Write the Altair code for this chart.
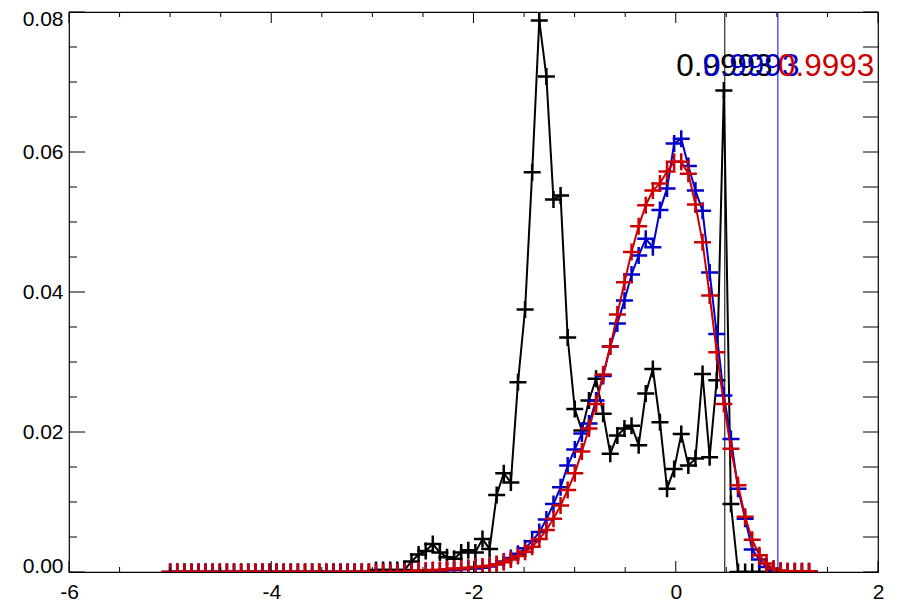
import altair as alt
import pandas as pd

# ---------------- data ----------------
N = 91
x_bins = [round(-5 + 0.0702 * i, 4) for i in range(N)]

black_vals = [0.0] * 29 + [0.0003] * 5 + [
    0.0015, 0.0025, 0.0030, 0.0040, 0.0028, 0.0021, 0.0019, 0.0028, 0.0031, 0.0028,
    0.0047, 0.0033, 0.0110, 0.0141, 0.0128, 0.0271, 0.0375, 0.0571, 0.0788, 0.0708,
    0.0532, 0.0538, 0.0335, 0.0233, 0.0202, 0.0245, 0.0276, 0.0226, 0.0169, 0.0195,
    0.0205, 0.0209, 0.0181, 0.0255, 0.0290, 0.0214, 0.0119, 0.0147, 0.0197, 0.0152,
    0.0162, 0.0283, 0.0164, 0.0274, 0.0688, 0.0097] + [0.0] * 11

red_vals = [0.0] * 34 + [
    0.0001, 0.0002, 0.0002, 0.0003, 0.0003, 0.0004, 0.0005, 0.0005, 0.0006, 0.0007,
    0.0008, 0.0009, 0.0011, 0.0014, 0.0018, 0.0023, 0.0029, 0.0036, 0.0047, 0.0060,
    0.0076, 0.0095, 0.0117, 0.0141, 0.0172, 0.0205, 0.0240, 0.0282, 0.0322, 0.0368,
    0.0414, 0.0457, 0.0494, 0.0524, 0.0545, 0.0555, 0.0572, 0.0586, 0.0586, 0.0569,
    0.0525, 0.0471, 0.0395, 0.0314, 0.0240, 0.0176, 0.0124, 0.0079, 0.0046, 0.0024,
    0.0012, 0.0005, 0.0002] + [0.0001] * 4

blue_vals = [0.0] * 36 + [
    0.0001, 0.0002, 0.0002, 0.0003, 0.0003, 0.0004, 0.0005, 0.0005, 0.0006, 0.0008,
    0.0011, 0.0015, 0.0020, 0.0026, 0.0034, 0.0044, 0.0057, 0.0075, 0.0097, 0.0121,
    0.0152, 0.0175, 0.0198, 0.0212, 0.0245, 0.0280, 0.0322, 0.0355, 0.0388, 0.0425,
    0.0452, 0.0476, 0.0464, 0.0517, 0.0548, 0.0612, 0.0619, 0.0580, 0.0545, 0.0516,
    0.0428, 0.0340, 0.0252, 0.0190, 0.0119, 0.0076, 0.0032, 0.0018, 0.0007, 0.0003] + [0.0001] * 5

vline_x = [0.485, 1.01]
vline_color = ["#000000", "#0000FF"]

label_text = ["0.9993", "0.9993", "0.9993"]
label_x = [0.005, 0.27, 1.01]
label_y = [0.0708, 0.0708, 0.0708]

x_major = [-6, -4, -2, 0, 2]
x_minor = [-5.5, -5, -4.5, -3.5, -3, -2.5, -1.5, -1, -0.5, 0.5, 1, 1.5]
y_major = [0.0, 0.02, 0.04, 0.06, 0.08]
y_minor = [0.005, 0.01, 0.015, 0.025, 0.03, 0.035, 0.045, 0.05, 0.055, 0.065, 0.07, 0.075]

BLACK = "#000000"
BLUE = "#0000CC"
RED = "#CC0000"
FONT = "Liberation Sans"
W, H = 809, 560

xs = alt.Scale(domain=[-6, 2], nice=False, zero=False)
ys = alt.Scale(domain=[0, 0.08], nice=False, zero=False)
PLUS = "M-1,0L1,0M0,-1L0,1"

AX = alt.Axis(values=x_major, ticks=False, domain=False, grid=False, labelFlush=False,
              labelExpr="datum.value + ''", labelFont=FONT, labelFontSize=21,
              labelColor="#000", labelPadding=9, title=None)
AY = alt.Axis(values=y_major, ticks=False, domain=False, grid=False,
              format=".2f", labelFont=FONT, labelFontSize=21, labelColor="#000",
              labelPadding=6, labelFlush=True, labelFlushOffset=4, title=None)


def X(f):
    return alt.X(f, scale=xs, axis=AX)


def Y(f):
    return alt.Y(f, scale=ys, axis=AY)


def series(vals, color):
    d = pd.DataFrame({"x": x_bins, "y": vals})
    base = alt.Chart(d)
    line = base.mark_line(color=color, strokeWidth=2, clip=True).encode(x=X("x:Q"), y=Y("y:Q"))
    pts = base.mark_point(shape=PLUS, size=290, filled=False, color=color,
                          strokeWidth=2.5, opacity=1, clip=True).encode(x=X("x:Q"), y=Y("y:Q"))
    return line + pts


vlines = alt.Chart(pd.DataFrame({"x": vline_x, "c": vline_color})).mark_rule(strokeWidth=1).encode(
    x=X("x:Q"), color=alt.Color("c:N", scale=None))

labels_df = pd.DataFrame({"t": label_text, "x": label_x, "y": label_y,
                          "c": [BLACK, BLUE, RED]})
texts = alt.Chart(labels_df).mark_text(font=FONT, fontSize=31.5, align="left",
                                       baseline="alphabetic").encode(
    x=X("x:Q"), y=Y("y:Q"), text="t:N", color=alt.Color("c:N", scale=None))


def xticks(vals, length):
    d = pd.DataFrame({"v": vals})
    b = alt.Chart(d).mark_rule(color="#000", strokeWidth=1)
    bottom = b.encode(x=X("v:Q"), y=alt.value(H), y2=alt.value(H - length))
    top = b.encode(x=X("v:Q"), y=alt.value(0), y2=alt.value(length))
    return bottom + top


def yticks(vals, left_len, right_len):
    d = pd.DataFrame({"v": vals})
    b = alt.Chart(d).mark_rule(color="#000", strokeWidth=1)
    left = b.encode(y=Y("v:Q"), x=alt.value(0), x2=alt.value(left_len))
    right = b.encode(y=Y("v:Q"), x=alt.value(W), x2=alt.value(W - right_len))
    return left + right


chart = alt.layer(
    vlines,
    series(black_vals, BLACK),
    series(blue_vals, BLUE),
    series(red_vals, RED),
    texts,
    xticks(x_major, 11), xticks(x_minor, 5),
    yticks(y_major, 16, 15), yticks(y_minor, 8, 15),
).properties(
    width=W, height=H,
    padding={"left": 61, "top": 4, "right": 10, "bottom": 30},
    autosize=alt.AutoSizeParams(type="none"),
    background="white",
).configure_view(stroke="#000", strokeWidth=1.2)

chart.save("out.html", embed_options={"renderer": "svg", "actions": False})
